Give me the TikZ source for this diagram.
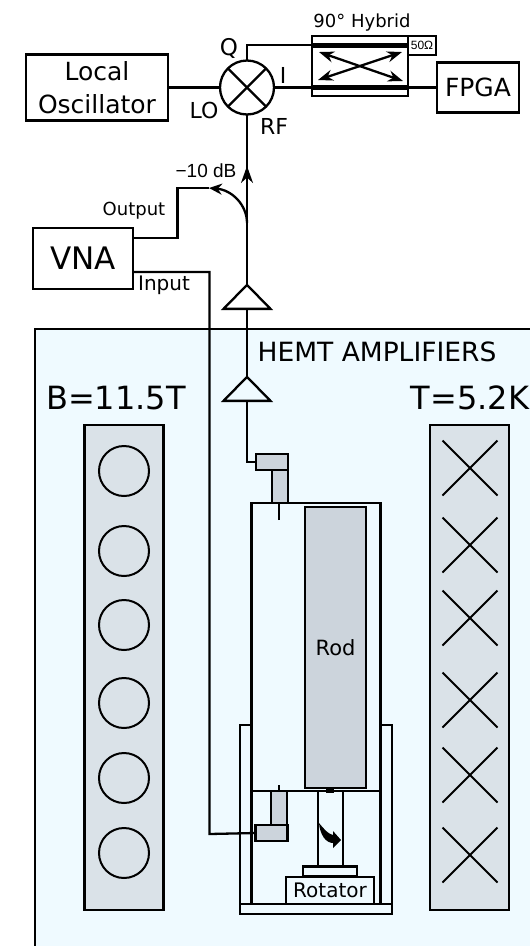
\documentclass[tikz,border=0pt]{standalone}
\usepackage{fontspec}
\setmainfont{DejaVu Sans}
\newfontfamily\arialfont{Liberation Sans}
\usetikzlibrary{arrows.meta,shapes.geometric,shapes.misc}
\definecolor{cryo}{HTML}{EFFAFF}
\definecolor{coilgrey}{HTML}{DAE2E8}
\definecolor{rodgrey}{HTML}{CCD4DC}
\newcommand{\fsz}[1]{\fontsize{#1}{#1}\selectfont}
\tikzset{
  wire/.style={line width=2.3pt},
  boxnode/.style={draw,line width=2.3pt,inner sep=0pt,outer sep=0pt,align=center},
  grey/.style={boxnode,fill=rodgrey},
  amp/.style={draw,line width=2.3pt,isosceles triangle,isosceles triangle stretches,shape border rotate=90,
    minimum width=47pt,minimum height=24pt,inner sep=0pt,outer sep=0pt},
  coil/.style={boxnode,fill=coilgrey,minimum width=79pt,minimum height=485pt},
  ring/.style={draw,line width=2pt,circle,minimum size=50pt,inner sep=0pt},
  cross/.style={draw,line width=2pt,cross out,minimum size=53pt,inner sep=0pt},
  hybarrow/.style={line width=2.3pt,{Stealth[length=15pt,width=11pt]}-{Stealth[length=15pt,width=11pt]}},
}
\begin{document}
\begin{tikzpicture}[x=1pt,y=-1pt]
\useasboundingbox (0,0) rectangle (530,946);
\fill[cryo] (35,329) rectangle (531,947);
\draw[wire] (531,329) -- (35,329) -- (35,947);

\node[boxnode,minimum width=142pt,minimum height=66pt,font=\fontsize{25}{33}\selectfont] (lo) at (97,87.5) {Local\\Oscillator};
\node[boxnode,circle,minimum size=54pt] (mixer) at (247,87.5) {};
\draw[wire] (mixer.45) -- (mixer.225);
\draw[wire] (mixer.135) -- (mixer.315);
\node[boxnode,minimum width=96pt,minimum height=60pt] (hybrid) at (360,66) {};
\node[boxnode,minimum width=28pt,minimum height=19pt,font=\arialfont\fsz{12}] (term) at (422,45.5) {50Ω};
\node[boxnode,minimum width=82pt,minimum height=50pt,font=\fsz{25}] (fpga) at (478,87.5) {FPGA};
\node[boxnode,minimum width=100pt,minimum height=61pt,font=\fsz{31}] (vna) at (83,258.5) {VNA};

\coordinate (qin) at (312,45);
\coordinate (qout) at (408,45);
\coordinate (iin) at (312,87.5);
\coordinate (iout) at (408,87.5);
\draw[wire] (lo.east) -- (mixer.west);
\draw[wire] (mixer.east) -- (fpga.west);
\draw[wire] (mixer.north) |- (qin);
\draw[line width=5pt] (qin) -- (qout);
\draw[line width=5pt] (iin) -- (iout);
\coordinate (ha) at (319,52);
\coordinate (hb) at (403,81);
\coordinate (hc) at (318,80);
\coordinate (hd) at (402,52);
\draw[hybarrow] (ha) -- (hb);
\draw[hybarrow] (hc) -- (hd);

\node[amp] (amp1) at (247,299) {};
\node[amp] (amp2) at (247,391) {};
\coordinate (tap) at (247,223);
\coordinate (tip) at (247,166);
\coordinate (coup) at (209,188);
\coordinate (corner) at (177.5,188);
\coordinate (outport) at (133,238);
\coordinate (inport) at (133,272);
\coordinate (inbend) at (209.5,834);
\draw[wire] (amp1.apex) -- (mixer.south);
\draw[wire,-{Stealth[length=17pt,width=12pt]}] (tap) -- (tip);
\draw[wire,-{Stealth[length=13pt,width=11pt]}] (tap) .. controls (247,205) and (232,190) .. (coup);
\draw[wire] (outport) -| (corner) -- (coup);
\draw[wire] (amp1.lower side) -- (amp2.apex);

\node[boxnode,minimum width=129pt,minimum height=288pt] (cavity) at (316,647) {};
\node[grey,minimum width=61pt,minimum height=281pt,font=\fsz{21}] (rod) at (335.5,647.5) {Rod};
\node[grey,minimum width=32pt,minimum height=16pt] (elbowa) at (272,462) {};
\node[grey,minimum width=16pt,minimum height=33pt] (stema) at (280,486.5) {};
\node[grey,minimum width=16pt,minimum height=34pt] (stemb) at (279,808) {};
\node[grey,minimum width=32pt,minimum height=16pt] (elbowb) at (271.5,833) {};
\draw[wire] (amp2.lower side) |- (elbowa.west);
\draw[wire] (inport) -| (inbend) -- (elbowb.west);
\coordinate (pina) at (279,520);
\coordinate (pinb) at (279,785);
\draw[wire] (pina) -- (pina |- cavity.north);
\draw[wire] (pinb) -- (pinb |- cavity.south);

\node[boxnode,minimum width=152pt,minimum height=10pt] (base) at (316,909) {};
\node[boxnode,minimum width=88pt,minimum height=27pt,font=\fsz{20}] (rotator) at (330,890.5) {Rotator};
\node[boxnode,minimum width=54pt,minimum height=10pt] (plate) at (330,871.5) {};
\node[boxnode,minimum width=25pt,minimum height=75pt] (shaft) at (330.5,828.5) {};
\fill (326,788) rectangle (334,793);
\fill (319,823) .. controls (324,829) and (328,834) .. (333,835) -- (333,831) -- (341,840) -- (333,848) -- (333,843) .. controls (326,843) and (320,835) .. (319,823) -- cycle;
\coordinate (walla) at (252,725);
\coordinate (wallb) at (380,725);
\draw[wire] (cavity.south west) -- (cavity.south west |- base.north);
\draw[wire] (cavity.south east) -- (cavity.south east |- base.north);
\draw[wire] (base.north west) |- (walla);
\draw[wire] (base.north east) |- (wallb);

\node[coil] (coilb) at (124,667.5) {};
\foreach \y [count=\i] in {471,551,625,703,778,853}
  \node[ring] (ring\i) at (124,\y) {};
\node[coil] (coilt) at (469.5,667.5) {};
\foreach \y [count=\i] in {468,545,618,700,775,855}
  \node[cross] (cross\i) at (470,\y) {};

\node[font=\fsz{26.5}] (hemt) at (377,352) {HEMT AMPLIFIERS};
\node[font=\fsz{32}] (field) at (116,398) {B=11.5T};
\node[font=\fsz{32}] (temp) at (470,398) {T=5.2K};
\node[font=\fsz{18}] (hybt) at (362,23) {90° Hybrid};
\node[font=\fsz{23}] (qlab) at (229,48) {Q};
\node[font=\fsz{22}] (ilab) at (283,75) {I};
\node[font=\fsz{22}] (lolab) at (204,110) {LO};
\node[font=\fsz{22}] (rflab) at (274,126) {RF};
\node[font=\arialfont\fsz{19}] (db) at (206,171) {−10 dB};
\node[font=\fsz{18}] (outlab) at (134,211) {Output};
\node[font=\fsz{20}] (inlab) at (164,285) {Input};
\end{tikzpicture}
\end{document}
